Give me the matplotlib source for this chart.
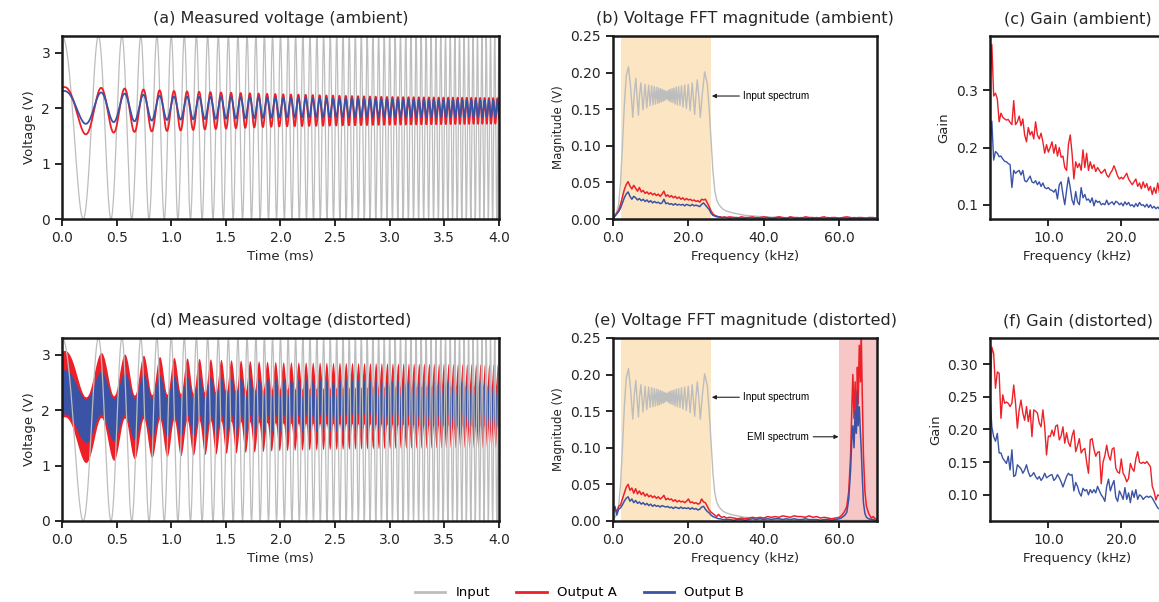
import numpy as np
import matplotlib.pyplot as plt
from matplotlib.lines import Line2D
from matplotlib.ticker import FormatStrFormatter

plt.rcParams['font.family'] = ['DejaVu Sans']
plt.rcParams['axes.linewidth'] = 1.8
plt.rcParams['axes.edgecolor'] = '#1a1a1a'
plt.rcParams['xtick.major.size'] = 5
plt.rcParams['ytick.major.size'] = 5
plt.rcParams['xtick.major.width'] = 1.4
plt.rcParams['ytick.major.width'] = 1.4
plt.rcParams['xtick.labelsize'] = 10
plt.rcParams['ytick.labelsize'] = 10
plt.rcParams['xtick.color'] = '#262626'
plt.rcParams['ytick.color'] = '#262626'
plt.rcParams['axes.labelcolor'] = '#262626'
plt.rcParams['axes.labelsize'] = 9.5
plt.rcParams['axes.titlepad'] = 9

GREY = '#bdbdbd'
RED = '#ee2027'
BLUE = '#3a53a4'
NOTE_FONT = ['Liberation Sans Narrow', 'Liberation Sans', 'DejaVu Sans']

# ---- time domain: chirp stimulus
duration_ms = 4.0
chirp_khz = [2.0, 26.0]          # sweep start / end
input_v = [0.0, 3.3]             # min / max of the stimulus
output_delay_ms = 0.025

# envelopes of the outputs (knots)
env_t = [0.0, 0.5, 1.0, 2.0, 3.0, 4.0]
a_amb_center = [1.94, 1.96, 1.95, 1.96, 1.95, 1.95]
a_amb_swing = [0.44, 0.40, 0.36, 0.29, 0.25, 0.23]
b_amb_center = [2.00, 2.01, 2.00, 2.01, 2.00, 1.99]
b_amb_swing = [0.31, 0.26, 0.21, 0.18, 0.16, 0.15]
a_dis_center = [2.05, 2.06, 2.06, 2.07, 2.08, 2.08]
a_dis_swing = [0.43, 0.38, 0.33, 0.25, 0.22, 0.20]
a_dis_emi = [0.60, 0.58, 0.56, 0.55, 0.55, 0.55]
b_dis_center = [2.06, 2.07, 2.07, 2.08, 2.09, 2.09]
b_dis_swing = [0.27, 0.24, 0.20, 0.17, 0.15, 0.15]
b_dis_emi = [0.40, 0.38, 0.35, 0.32, 0.30, 0.30]

# ---- input spectrum (same in b and e)
in_f = [0.0, 0.5, 1.0, 1.5, 2.0, 2.5, 3.0, 3.5,
        4.1, 4.7, 5.25, 5.65, 6.05, 6.4, 6.75, 7.05, 7.4,
        7.95, 8.5, 8.95, 9.45, 9.85, 10.25, 10.6, 10.95, 11.25, 11.55,
        11.85, 12.1, 12.35, 12.6, 12.85, 13.05, 13.3, 13.5, 13.7, 13.9,
        14.1, 14.3, 14.5, 14.7, 14.95, 15.15, 15.4, 15.65, 15.9, 16.15,
        16.45, 16.75, 17.05, 17.4, 17.75, 18.15, 18.55, 19.0, 19.45, 19.95,
        20.45, 21.0, 21.65, 22.0, 22.35, 22.75, 23.15, 23.7, 24.3,
        25.0, 25.5, 26.0, 26.5, 27.0, 27.5, 28.0, 29.0, 30.0, 32.0,
        35.0, 40.0, 45.0, 50.0, 60.0, 70.0]
in_v = [0.000, 0.005, 0.010, 0.020, 0.050, 0.100, 0.155, 0.195,
        0.208, 0.178, 0.139, 0.172, 0.192, 0.165, 0.142, 0.170, 0.186,
        0.149, 0.184, 0.152, 0.183, 0.155, 0.182, 0.156, 0.181, 0.157, 0.180,
        0.158, 0.179, 0.159, 0.178, 0.160, 0.177, 0.161, 0.176, 0.162, 0.175,
        0.164, 0.174, 0.163, 0.176, 0.161, 0.177, 0.160, 0.178, 0.159, 0.179,
        0.157, 0.180, 0.156, 0.181, 0.155, 0.182, 0.153, 0.183, 0.151, 0.184,
        0.148, 0.186, 0.143, 0.170, 0.190, 0.168, 0.139, 0.172, 0.201,
        0.185, 0.150, 0.108, 0.065, 0.038, 0.026, 0.020, 0.014, 0.011, 0.008,
        0.005, 0.003, 0.002, 0.0015, 0.001, 0.001]

# ---- output spectra, ambient: 0..29.5 kHz every 0.5, then 30..70 every 1
spec_f = np.concatenate([np.arange(0, 30, 0.5), np.arange(30, 71, 1.0)])
amb_a = [0.002, 0.004, 0.008, 0.012, 0.020, 0.030, 0.040, 0.047, 0.051, 0.045,
         0.041, 0.046, 0.042, 0.038, 0.043, 0.037, 0.039, 0.035, 0.037, 0.034,
         0.036, 0.033, 0.035, 0.032, 0.034, 0.031, 0.034, 0.038, 0.031, 0.033,
         0.030, 0.032, 0.029, 0.031, 0.028, 0.030, 0.027, 0.029, 0.026, 0.028,
         0.026, 0.027, 0.025, 0.026, 0.024, 0.025, 0.023, 0.027, 0.026, 0.027,
         0.022, 0.017, 0.011, 0.007, 0.005, 0.004, 0.003, 0.003, 0.002, 0.003,
         0.002, 0.003, 0.002, 0.001, 0.003, 0.002, 0.002, 0.003, 0.001, 0.002,
         0.003, 0.002, 0.001, 0.002, 0.003, 0.002, 0.001, 0.003, 0.002, 0.002,
         0.001, 0.003, 0.002, 0.002, 0.001, 0.002, 0.003, 0.001, 0.002, 0.002,
         0.001, 0.002, 0.003, 0.002, 0.001, 0.002, 0.002, 0.001, 0.002, 0.002,
         0.001]
amb_b = [0.002, 0.004, 0.007, 0.010, 0.015, 0.022, 0.029, 0.034, 0.037, 0.031,
         0.027, 0.031, 0.029, 0.026, 0.028, 0.025, 0.027, 0.024, 0.026, 0.023,
         0.025, 0.022, 0.024, 0.022, 0.023, 0.021, 0.022, 0.027, 0.021, 0.022,
         0.020, 0.021, 0.019, 0.021, 0.019, 0.020, 0.019, 0.020, 0.018, 0.020,
         0.019, 0.018, 0.020, 0.018, 0.019, 0.018, 0.017, 0.020, 0.022, 0.019,
         0.016, 0.013, 0.008, 0.005, 0.004, 0.003, 0.003, 0.002, 0.002, 0.002,
         0.002, 0.001, 0.002, 0.002, 0.001, 0.001, 0.002, 0.001, 0.002, 0.001,
         0.001, 0.002, 0.001, 0.001, 0.002, 0.001, 0.001, 0.002, 0.001, 0.001,
         0.002, 0.001, 0.001, 0.001, 0.002, 0.001, 0.001, 0.002, 0.001, 0.001,
         0.001, 0.002, 0.001, 0.001, 0.002, 0.001, 0.001, 0.001, 0.002, 0.001,
         0.001]

# ---- output spectra, distorted: 0..29.5 every 0.5, 30..59 every 1, then EMI band
emi_f = [60.0, 60.5, 61.0, 61.5, 62.0, 62.5, 63.0, 63.3, 63.6, 63.9, 64.2, 64.5, 64.8,
         65.0, 65.3, 65.6, 65.8, 66.1, 66.4, 66.8, 67.2, 67.8, 68.5, 69.0, 69.5, 70.0]
dis_f = np.concatenate([np.arange(0, 30, 0.5), np.arange(30, 60, 1.0), emi_f])
dis_a = [0.014, 0.018, 0.012, 0.020, 0.022, 0.030, 0.038, 0.046, 0.050, 0.042,
         0.045, 0.038, 0.044, 0.037, 0.041, 0.036, 0.039, 0.034, 0.037, 0.033,
         0.035, 0.032, 0.034, 0.031, 0.033, 0.030, 0.032, 0.035, 0.029, 0.031,
         0.029, 0.030, 0.027, 0.029, 0.026, 0.028, 0.026, 0.027, 0.025, 0.027,
         0.030, 0.025, 0.026, 0.024, 0.025, 0.023, 0.024, 0.030, 0.026, 0.025,
         0.020, 0.015, 0.012, 0.010, 0.008, 0.006, 0.009, 0.006, 0.005, 0.006,
         0.004, 0.005, 0.004, 0.003, 0.004, 0.003, 0.004, 0.005, 0.004, 0.005,
         0.004, 0.006, 0.005, 0.006, 0.005, 0.007, 0.006, 0.005, 0.007, 0.006,
         0.006, 0.005, 0.007, 0.005, 0.006, 0.004, 0.005, 0.004, 0.003, 0.004,
         0.005, 0.007, 0.010, 0.014, 0.020, 0.040, 0.090, 0.150, 0.200, 0.140,
         0.190, 0.120, 0.210, 0.160, 0.240, 0.190, 0.260, 0.170, 0.090, 0.040,
         0.020, 0.010, 0.004, 0.006, 0.003, 0.003]
dis_b = [0.010, 0.020, 0.008, 0.016, 0.018, 0.022, 0.027, 0.031, 0.033, 0.027,
         0.030, 0.025, 0.028, 0.024, 0.026, 0.023, 0.025, 0.022, 0.024, 0.021,
         0.023, 0.020, 0.022, 0.020, 0.021, 0.019, 0.021, 0.020, 0.019, 0.020,
         0.018, 0.019, 0.017, 0.019, 0.018, 0.017, 0.019, 0.017, 0.018, 0.017,
         0.018, 0.016, 0.018, 0.016, 0.017, 0.015, 0.016, 0.019, 0.020, 0.016,
         0.013, 0.011, 0.008, 0.006, 0.005, 0.004, 0.003, 0.003, 0.002, 0.002,
         0.002, 0.002, 0.001, 0.002, 0.002, 0.001, 0.002, 0.003, 0.002, 0.003,
         0.002, 0.003, 0.002, 0.003, 0.003, 0.002, 0.003, 0.002, 0.003, 0.002,
         0.002, 0.003, 0.002, 0.002, 0.002, 0.001, 0.002, 0.002, 0.001, 0.002,
         0.003, 0.004, 0.006, 0.008, 0.012, 0.030, 0.070, 0.110, 0.130, 0.100,
         0.150, 0.120, 0.177, 0.130, 0.156, 0.120, 0.100, 0.060, 0.025, 0.010,
         0.005, 0.003, 0.002, 0.002, 0.001, 0.001]

# ---- gain, 2..26 kHz every 0.25 kHz
gain_f = np.arange(2.0, 26.001, 0.25)
gain_amb_a = [0.31, 0.38, 0.29, 0.295, 0.285, 0.245, 0.26, 0.253,
              0.25, 0.248, 0.249, 0.244, 0.24, 0.282, 0.24, 0.245,
              0.255, 0.238, 0.25, 0.222, 0.21, 0.235, 0.222, 0.228,
              0.215, 0.245, 0.222, 0.215, 0.225, 0.21, 0.19, 0.205,
              0.192, 0.2, 0.21, 0.19, 0.205, 0.185, 0.2, 0.183,
              0.185, 0.165, 0.16, 0.205, 0.222, 0.19, 0.145, 0.175,
              0.165, 0.172, 0.16, 0.196, 0.165, 0.19, 0.16, 0.175,
              0.163, 0.17, 0.158, 0.165, 0.16, 0.155, 0.158, 0.162,
              0.152, 0.148, 0.155, 0.16, 0.168, 0.16, 0.15, 0.145,
              0.148, 0.145, 0.15, 0.155, 0.145, 0.14, 0.135, 0.14,
              0.145, 0.132, 0.138, 0.128, 0.14, 0.13, 0.137, 0.125,
              0.132, 0.118, 0.13, 0.12, 0.138, 0.12, 0.128, 0.115,
              0.125]
gain_amb_b = [0.20, 0.246, 0.178, 0.193, 0.19, 0.184, 0.185, 0.18,
              0.176, 0.175, 0.172, 0.17, 0.13, 0.16, 0.155, 0.158,
              0.16, 0.152, 0.16, 0.142, 0.14, 0.145, 0.15, 0.14,
              0.138, 0.142, 0.135, 0.14, 0.132, 0.138, 0.13, 0.128,
              0.13, 0.126, 0.125, 0.122, 0.127, 0.11, 0.135, 0.14,
              0.118, 0.10, 0.125, 0.148, 0.13, 0.108, 0.10, 0.123,
              0.105, 0.10, 0.13, 0.112, 0.118, 0.108, 0.11, 0.104,
              0.112, 0.098, 0.108, 0.104, 0.106, 0.10, 0.102, 0.10,
              0.108, 0.10, 0.103, 0.105, 0.10, 0.106, 0.104, 0.10,
              0.103, 0.098, 0.105, 0.10, 0.104, 0.098, 0.10, 0.096,
              0.102, 0.097, 0.104, 0.099, 0.10, 0.096, 0.101, 0.095,
              0.10, 0.094, 0.097, 0.093, 0.096, 0.092, 0.094, 0.09,
              0.092]
gain_dis_a = [0.25, 0.326, 0.316, 0.263, 0.288, 0.286, 0.217, 0.253,
              0.24, 0.242, 0.24, 0.235, 0.24, 0.268, 0.24, 0.202,
              0.23, 0.245, 0.225, 0.214, 0.235, 0.212, 0.23, 0.189,
              0.23, 0.228, 0.225, 0.21, 0.204, 0.23, 0.204, 0.161,
              0.19, 0.189, 0.199, 0.19, 0.205, 0.207, 0.184, 0.19,
              0.204, 0.179, 0.195, 0.18, 0.174, 0.19, 0.199, 0.166,
              0.175, 0.186, 0.164, 0.169, 0.171, 0.15, 0.133, 0.184,
              0.186, 0.17, 0.159, 0.165, 0.166, 0.117, 0.15, 0.16,
              0.176, 0.16, 0.153, 0.17, 0.172, 0.141, 0.135, 0.133,
              0.155, 0.133, 0.128, 0.12, 0.125, 0.148, 0.14, 0.136,
              0.155, 0.166, 0.15, 0.148, 0.15, 0.148, 0.151, 0.147,
              0.143, 0.113, 0.105, 0.092, 0.10, 0.098, 0.102, 0.095,
              0.10]
gain_dis_b = [0.25, 0.204, 0.189, 0.182, 0.194, 0.164, 0.164, 0.156,
              0.152, 0.148, 0.159, 0.138, 0.169, 0.128, 0.13, 0.146,
              0.143, 0.14, 0.133, 0.138, 0.146, 0.135, 0.128, 0.13,
              0.134, 0.128, 0.124, 0.128, 0.122, 0.126, 0.133, 0.126,
              0.128, 0.13, 0.131, 0.122, 0.125, 0.131, 0.126, 0.12,
              0.112, 0.12, 0.128, 0.133, 0.13, 0.131, 0.106, 0.119,
              0.113, 0.103, 0.098, 0.11, 0.106, 0.108, 0.10, 0.108,
              0.103, 0.108, 0.103, 0.113, 0.106, 0.10, 0.096, 0.09,
              0.113, 0.124, 0.106, 0.115, 0.122, 0.096, 0.09, 0.106,
              0.10, 0.093, 0.111, 0.093, 0.103, 0.088, 0.106, 0.096,
              0.108, 0.093, 0.10, 0.098, 0.093, 0.096, 0.098, 0.096,
              0.098, 0.095, 0.09, 0.085, 0.08, 0.078, 0.077, 0.075,
              0.074]

# ---- build the time traces
t = np.linspace(0, duration_ms, 8001)
rate = (chirp_khz[1] - chirp_khz[0]) / duration_ms


def chirp_phase(tt):
    return 2 * np.pi * (chirp_khz[0] * tt + 0.5 * rate * tt ** 2)


mid = (input_v[0] + input_v[1]) / 2
vin = mid + (input_v[1] - mid) * np.cos(chirp_phase(t))
resp = np.cos(chirp_phase(t - output_delay_ms))


def trace(center, swing):
    return np.interp(t, env_t, center) + np.interp(t, env_t, swing) * resp


out_a = trace(a_amb_center, a_amb_swing)
out_b = trace(b_amb_center, b_amb_swing)
dis_a_mid = trace(a_dis_center, a_dis_swing)
dis_b_mid = trace(b_dis_center, b_dis_swing)
dis_a_w = np.interp(t, env_t, a_dis_emi)
dis_b_w = np.interp(t, env_t, b_dis_emi)

fig = plt.figure(figsize=(11.59, 6.02), dpi=100)

row_y = [0.6362, 0.1346]
h = 0.304
axA = fig.add_axes([0.0535, row_y[0], 0.377, h])
axB = fig.add_axes([0.5289, row_y[0], 0.2278, h])
axC = fig.add_axes([0.8542, row_y[0], 0.151, h])
axD = fig.add_axes([0.0535, row_y[1], 0.377, h])
axE = fig.add_axes([0.5289, row_y[1], 0.2278, h])
axF = fig.add_axes([0.8542, row_y[1], 0.151, h])

# (a)
axA.plot(t, vin, color=GREY, lw=0.9)
axA.plot(t, out_a, color=RED, lw=1.3)
axA.plot(t, out_b, color=BLUE, lw=1.3)
axA.set_title('(a) Measured voltage (ambient)', fontsize=11.5, color='#262626')

# (d)
axD.plot(t, vin, color=GREY, lw=0.9)
axD.fill_between(t, dis_a_mid - dis_a_w, dis_a_mid + dis_a_w, color=RED, lw=0)
axD.fill_between(t, dis_b_mid - dis_b_w, dis_b_mid + dis_b_w, color=BLUE, lw=0)
axD.set_title('(d) Measured voltage (distorted)', fontsize=11.5, color='#262626')

for ax in (axA, axD):
    ax.set_xlim(0, 4)
    ax.set_ylim(0, 3.3)
    ax.set_xticks(np.arange(0, 4.01, 0.5))
    ax.set_yticks([0, 1, 2, 3])
    ax.xaxis.set_major_formatter(FormatStrFormatter('%.1f'))
    ax.set_xlabel('Time (ms)')
    ax.set_ylabel('Voltage (V)')

# (b)
axB.axvspan(2, 26, color='#fbe5c3', lw=0, zorder=0)
axB.plot(in_f, in_v, color=GREY, lw=1.0)
axB.plot(spec_f, amb_a, color=RED, lw=1.1)
axB.plot(spec_f, amb_b, color=BLUE, lw=1.1)
axB.set_title('(b) Voltage FFT magnitude (ambient)', fontsize=11.5, color='#262626')
axB.annotate('Input spectrum', xy=(26.2, 0.168), xytext=(34.6, 0.168),
             va='center', ha='left', fontsize=7.2, family=NOTE_FONT,
             arrowprops=dict(arrowstyle='-|>', color='#222222', lw=0.8,
                             mutation_scale=6, shrinkA=1, shrinkB=0))

# (e)
axE.axvspan(2, 26, color='#fbe5c3', lw=0, zorder=0)
axE.axvspan(60, 70, color='#f7c6c7', lw=0, zorder=0)
axE.plot(in_f, in_v, color=GREY, lw=1.0)
axE.plot(dis_f, dis_a, color=RED, lw=1.1)
axE.plot(dis_f, dis_b, color=BLUE, lw=1.1)
axE.set_title('(e) Voltage FFT magnitude (distorted)', fontsize=11.5, color='#262626')
axE.annotate('Input spectrum', xy=(26.2, 0.169), xytext=(34.6, 0.169),
             va='center', ha='left', fontsize=7.2, family=NOTE_FONT,
             arrowprops=dict(arrowstyle='-|>', color='#222222', lw=0.8,
                             mutation_scale=6, shrinkA=1, shrinkB=0))
axE.annotate('EMI spectrum', xy=(59.8, 0.115), xytext=(35.6, 0.115),
             va='center', ha='left', fontsize=7.2, family=NOTE_FONT,
             arrowprops=dict(arrowstyle='-|>', color='#222222', lw=0.8,
                             mutation_scale=6, shrinkA=1, shrinkB=0))

for ax in (axB, axE):
    ax.set_xlim(0, 70)
    ax.set_ylim(0, 0.25)
    ax.set_xticks([0, 20, 40, 60])
    ax.set_yticks(np.arange(0, 0.251, 0.05))
    ax.xaxis.set_major_formatter(FormatStrFormatter('%.1f'))
    ax.yaxis.set_major_formatter(FormatStrFormatter('%.2f'))
    ax.set_xlabel('Frequency (kHz)')
    ax.set_ylabel('Magnitude (V)', fontsize=8.5)

# (c)
axC.plot(gain_f, gain_amb_a, color=RED, lw=1.0)
axC.plot(gain_f, gain_amb_b, color=BLUE, lw=1.0)
axC.set_title('(c) Gain (ambient)', fontsize=11.5, color='#262626')
axC.set_ylim(0.075, 0.395)
axC.set_yticks([0.1, 0.2, 0.3])
axC.yaxis.set_major_formatter(FormatStrFormatter('%.1f'))

# (f)
axF.plot(gain_f, gain_dis_a, color=RED, lw=1.0)
axF.plot(gain_f, gain_dis_b, color=BLUE, lw=1.0)
axF.set_title('(f) Gain (distorted)', fontsize=11.5, color='#262626')
axF.set_ylim(0.06, 0.34)
axF.set_yticks([0.10, 0.15, 0.20, 0.25, 0.30])
axF.yaxis.set_major_formatter(FormatStrFormatter('%.2f'))

for ax in (axC, axF):
    ax.set_xlim(2, 26)
    ax.set_xticks([10, 20])
    ax.xaxis.set_major_formatter(FormatStrFormatter('%.1f'))
    ax.set_xlabel('Frequency (kHz)')
    ax.set_ylabel('Gain')

handles = [Line2D([], [], color=GREY, lw=2), Line2D([], [], color=RED, lw=2),
           Line2D([], [], color=BLUE, lw=2)]
fig.legend(handles, ['Input', 'Output A', 'Output B'], loc='center',
           bbox_to_anchor=(0.5, 0.015), ncol=3, frameon=False, fontsize=9.5,
           handlelength=2.3, handletextpad=0.8, columnspacing=2.0)

fig.savefig('out.png', dpi=100)
